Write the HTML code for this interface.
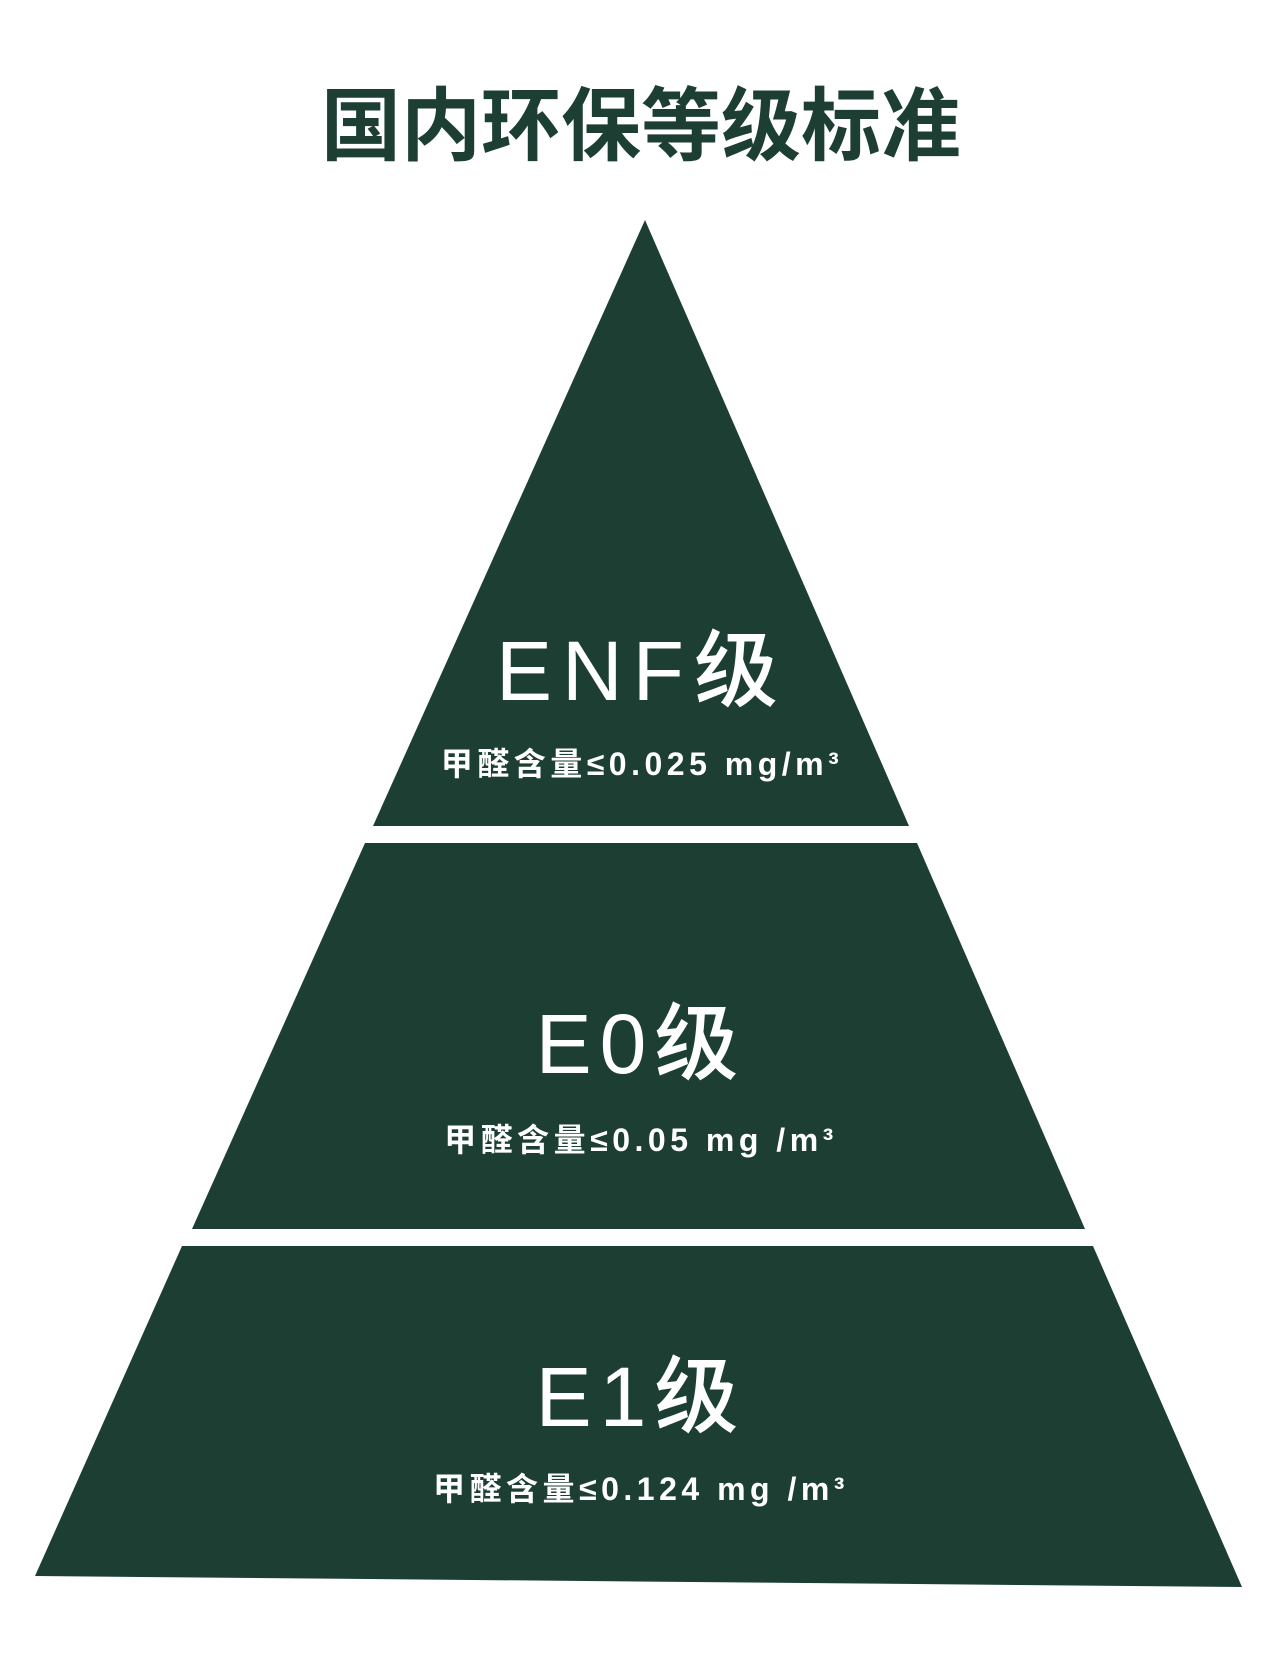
<!DOCTYPE html>
<html><head><meta charset="utf-8"><style>
html,body{margin:0;padding:0;background:#fff;}
svg{display:block}
text{font-family:"Liberation Sans","Noto Sans CJK SC",sans-serif;fill:#fff;text-anchor:middle}
</style></head><body>
<svg width="1284" height="1667" viewBox="0 0 1284 1667" xmlns="http://www.w3.org/2000/svg">
<rect width="1284" height="1667" fill="#fff"/>
<text x="641" y="154" style="fill:#1d3f33;font-size:80px;font-weight:bold;font-family:'Noto Sans CJK SC',sans-serif">国内环保等级标准</text>
<polygon points="645,220 909,826 373,826" fill="#1d3f33"/>
<polygon points="365,843 917,843 1085,1229 192,1229" fill="#1d3f33"/>
<polygon points="182,1246 1093,1246 1242,1587 35,1576" fill="#1d3f33"/>
<text x="642" y="700" style="font-size:84px;letter-spacing:10px;font-weight:500">ENF级</text>
<text x="642" y="775" style="font-size:32px;letter-spacing:4.5px;font-weight:bold">甲醛含量≤0.025 mg/m³</text>
<text x="641" y="1073" style="font-size:84px;letter-spacing:8px;font-weight:500">E0级</text>
<text x="641" y="1151" style="font-size:32px;letter-spacing:4.5px;font-weight:bold">甲醛含量≤0.05 mg /m³</text>
<text x="641" y="1426" style="font-size:84px;letter-spacing:8px;font-weight:500">E1级</text>
<text x="641" y="1500" style="font-size:32px;letter-spacing:4.5px;font-weight:bold">甲醛含量≤0.124 mg /m³</text>
</svg>
</body></html>
